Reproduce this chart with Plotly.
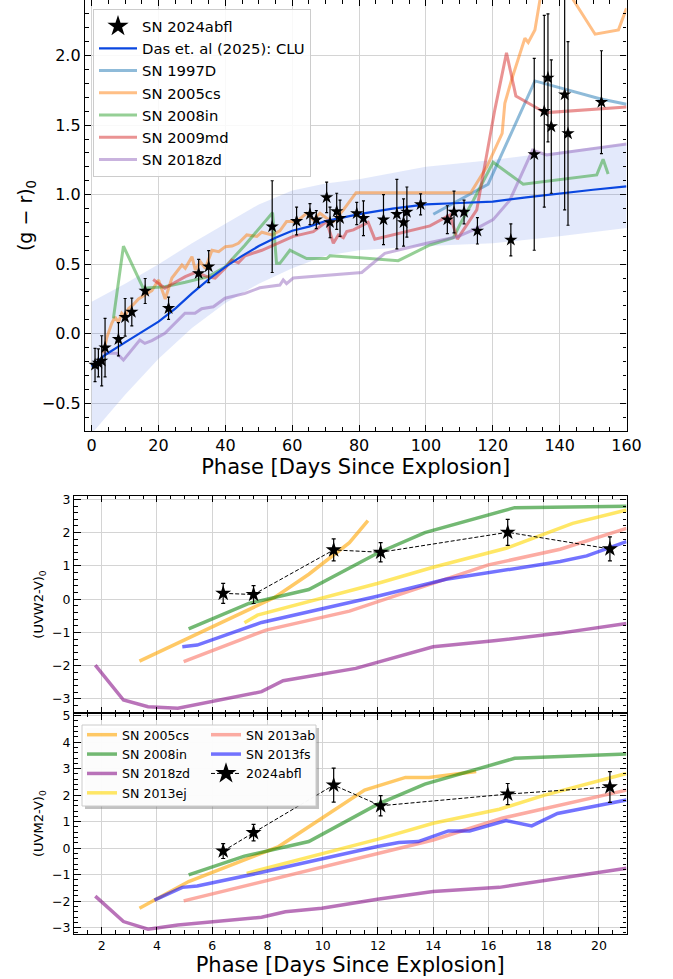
import plotly.graph_objects as go

# ---------------- (g - r)_0 panel ----------------
abfl_phase = [1.0, 2.0, 3.0, 4.0, 8.0, 10.0, 12.0, 16.0, 23.0, 32.0, 35.0,
              54.0, 61.3, 65.3, 67.2, 70.3, 71.3, 73.3, 74.3, 79.3,
              81.3, 87.3, 91.3, 93.3, 94.3, 98.4,
              106.4, 108.4, 111.4, 115.4, 125.4,
              132.4, 135.4, 136.5, 137.5, 141.5, 142.5, 152.5]
abfl_gr = [-0.225, -0.21, -0.195, -0.10, -0.04, 0.118, 0.156, 0.307, 0.183, 0.434, 0.482,
           0.77, 0.81, 0.86, 0.82, 0.98, 0.80, 0.88, 0.83, 0.865,
           0.83, 0.82, 0.86, 0.80, 0.875, 0.93,
           0.82, 0.875, 0.875, 0.74, 0.675,
           1.29, 1.60, 1.84, 1.49, 1.72, 1.44, 1.665]
abfl_gr_err = [0.12, 0.10, 0.18, 0.21, 0.12, 0.135, 0.10, 0.09, 0.08, 0.10, 0.115,
               0.33, 0.10, 0.075, 0.065, 0.11, 0.11, 0.13, 0.13, 0.08,
               0.125, 0.18, 0.25, 0.17, 0.18, 0.075,
               0.10, 0.15, 0.085, 0.095, 0.115,
               0.69, 0.69, 0.46, 0.48, 0.83, 0.66, 0.37]

clu_phase = [0, 4, 10, 15, 20, 25, 30, 35, 40, 45, 50, 55, 60, 65, 70, 75, 80,
             90, 100, 110, 120, 130, 140, 150, 160]
clu_gr = [-0.237, -0.153, -0.063, 0.012, 0.086, 0.18, 0.29, 0.39, 0.48, 0.56, 0.63,
          0.69, 0.74, 0.77, 0.81, 0.835, 0.86, 0.90, 0.93, 0.94, 0.95, 0.98, 1.01, 1.035, 1.06]
band_phase = [0, 10, 20, 30, 40, 50, 60, 70, 80, 100, 120, 140, 160]
band_hi = [0.23, 0.36, 0.50, 0.65, 0.79, 0.93, 1.03, 1.08, 1.11, 1.20, 1.25, 1.31, 1.37]
band_lo = [-0.72, -0.44, -0.18, 0.04, 0.22, 0.36, 0.47, 0.56, 0.60, 0.63, 0.65, 0.70, 0.76]

sn97d_phase = [102.2, 118.6, 132.6, 152.0, 160.0]
sn97d_gr = [0.859, 1.075, 1.818, 1.69, 1.65]

sn05cs_phase = [3.5, 4.5, 6.0, 7.0, 8.0, 9.0, 10.0, 11.0, 12.5, 14.0, 16.0, 18.0, 20.0, 22.0,
                24.0, 27.0, 28.0, 30.0, 31.0, 32.5, 34.0, 36.0, 38.0, 40.0, 42.0, 43.9,
                46.4, 49.4, 50.9, 53.9, 56.3, 58.3, 61.3, 64.3, 66.3, 68.3, 70.3, 72.3,
                75.3, 79.1, 113.4, 118.2, 122.8, 123.6, 125.6, 129.6, 130.6, 132.6, 134.1,
                139.0, 144.1, 150.6, 157.6, 160.0]
sn05cs_gr = [-0.14, -0.03, 0.075, 0.12, 0.08, 0.147, 0.122, 0.18, 0.21, 0.25, 0.28, 0.31,
             0.386, 0.25, 0.40, 0.494, 0.47, 0.554, 0.458, 0.518, 0.47, 0.60, 0.59, 0.626,
             0.63, 0.65, 0.71, 0.70, 0.73, 0.71, 0.74, 0.806, 0.806, 0.866, 0.818, 0.866,
             0.83, 0.806, 0.89, 1.014, 1.014, 1.20, 1.44, 1.657, 1.825, 2.125, 2.094,
             2.185, 2.40, 2.90, 2.40, 2.154, 2.185, 2.34]

sn08in_phase = [6.5, 9.5, 15.4, 21.9, 28.0, 34.9, 39.9, 45.9, 54.1, 55.3, 56.3, 59.3,
                64.3, 70.3, 71.3, 80.3, 91.7, 101.2, 108.2, 110.5, 114.2, 120.1, 129.1,
                151.1, 153.0, 154.5]
sn08in_gr = [0.11, 0.63, 0.327, 0.338, 0.37, 0.41, 0.48, 0.638, 0.87, 0.506, 0.506, 0.60,
             0.54, 0.54, 0.56, 0.547, 0.525, 0.638, 0.69, 0.80, 0.96, 1.233, 1.075,
             1.142, 1.255, 1.149]

sn09md_phase = [18.4, 21.9, 25.0, 28.0, 30.9, 32.4, 34.5, 36.9, 39.9, 41.9, 43.9, 45.9,
                50.9, 60.3, 66.3, 70.3, 72.3, 73.8, 75.3, 76.3, 78.3, 80.3, 82.7, 84.7,
                101.2, 107.2, 109.4, 115.2, 120.6, 124.1, 126.9, 134.9, 136.1, 160.0]
sn09md_gr = [0.39, 0.327, 0.37, 0.41, 0.44, 0.43, 0.41, 0.40, 0.47, 0.53, 0.51, 0.56,
             0.60, 0.70, 0.734, 0.806, 0.65, 0.71, 0.69, 0.734, 0.746, 0.77, 0.80, 0.68,
             0.775, 0.854, 0.68, 0.89, 1.61, 2.02, 1.71, 1.60, 1.59, 1.63]

sn18zd_phase = [3.5, 7.5, 9.5, 11.5, 14.4, 15.9, 18.0, 21.9, 24.9, 27.9, 30.9, 32.9, 36.4,
                39.9, 45.9, 50.3, 56.3, 57.3, 58.3, 60.3, 80.8, 87.7, 100.2, 109.7, 115.2,
                120.1, 125.1, 128.6, 131.9, 136.1, 160.0]
sn18zd_gr = [-0.14, -0.14, -0.19, -0.13, -0.045, -0.07, -0.05, 0.003, 0.075, 0.147, 0.147,
             0.18, 0.194, 0.255, 0.29, 0.33, 0.35, 0.386, 0.36, 0.40, 0.44, 0.578, 0.65,
             0.70, 0.758, 0.82, 0.96, 1.15, 1.32, 1.286, 1.365]

# ---------------- UV colour panels ----------------
uv_phase = [6.4, 7.5, 10.4, 12.1, 16.7, 20.4]
uvw2_v = [0.175, 0.14, 1.48, 1.41, 2.01, 1.51]
uvw2_err = [0.30, 0.27, 0.33, 0.29, 0.39, 0.36]
uvm2_v = [-0.11, 0.585, 2.38, 1.60, 2.04, 2.31]
uvm2_err = [0.28, 0.31, 0.64, 0.38, 0.40, 0.58]

w2_05cs_t = [3.37, 5.0, 6.6, 8.26, 9.5, 10.97, 11.64]
w2_05cs = [-1.86, -1.22, -0.60, 0.05, 0.75, 1.70, 2.36]
w2_08in_t = [5.15, 7.33, 9.5, 11.98, 13.7, 16.95, 21.0]
w2_08in = [-0.89, -0.13, 0.29, 1.38, 2.0, 2.75, 2.79]
w2_18zd_t = [1.77, 2.79, 3.68, 4.76, 7.79, 8.57, 11.2, 14.0, 16.2, 18.6, 21.0]
w2_18zd = [-1.98, -3.03, -3.23, -3.28, -2.78, -2.45, -2.08, -1.43, -1.25, -1.02, -0.73]
w2_13ej_t = [7.17, 7.64, 11.98, 14.0, 16.64, 19.05, 21.0]
w2_13ej = [-0.71, -0.48, 0.47, 0.96, 1.53, 2.28, 2.68]
w2_13ab_t = [4.97, 7.95, 10.97, 11.98, 14.3, 16.0, 18.6, 21.0]
w2_13ab = [-1.88, -0.93, -0.36, -0.08, 0.55, 1.03, 1.50, 2.13]
w2_13fs_t = [4.92, 5.46, 7.79, 11.98, 14.47, 16.64, 18.6, 19.56, 21.0]
w2_13fs = [-1.43, -1.38, -0.70, 0.09, 0.60, 0.88, 1.13, 1.30, 1.73]

m2_05cs_t = [3.37, 5.15, 8.41, 10.12, 11.52, 13.0, 13.85, 15.56]
m2_05cs = [-2.27, -1.26, 0.06, 1.25, 2.19, 2.67, 2.67, 2.89]
m2_08in_t = [5.15, 7.17, 9.5, 11.98, 13.7, 16.95, 21.0]
m2_08in = [-1.01, -0.30, 0.25, 1.65, 2.42, 3.39, 3.55]
m2_18zd_t = [1.77, 2.79, 3.68, 4.76, 7.79, 8.65, 9.97, 11.98, 14.0, 16.4, 21.0]
m2_18zd = [-1.81, -2.77, -3.06, -2.90, -2.61, -2.40, -2.27, -1.93, -1.64, -1.48, -0.76]
m2_13ej_t = [7.25, 11.98, 14.0, 15.56, 16.4, 18.04, 21.0]
m2_13ej = [-0.95, 0.33, 0.94, 1.28, 1.47, 2.0, 2.82]
m2_13ab_t = [4.97, 11.98, 14.0, 16.49, 21.0]
m2_13ab = [-1.99, -0.23, 0.31, 1.13, 2.19]
m2_13fs_t = [3.91, 4.92, 5.46, 7.64, 11.98, 12.76, 13.46, 14.55, 15.32, 16.64, 17.57, 18.5, 21.0]
m2_13fs = [-1.96, -1.48, -1.43, -0.95, 0.06, 0.21, 0.25, 0.65, 0.65, 1.04, 0.84, 1.31, 1.82]

# ---------------- figure ----------------
W, H = 673, 979
FONT = "DejaVu Sans"


def fx(px):
    return px / W


def fy(py):
    return 1 - py / H


fig = go.Figure()

# CLU spread
fig.add_trace(go.Scatter(x=band_phase, y=band_hi, mode="lines", line=dict(width=0),
                         showlegend=False, hoverinfo="skip", xaxis="x", yaxis="y"))
fig.add_trace(go.Scatter(x=band_phase, y=band_lo, mode="lines", line=dict(width=0),
                         fill="tonexty", fillcolor="rgba(70,110,225,0.15)",
                         showlegend=False, hoverinfo="skip", xaxis="x", yaxis="y"))

top_cmp = [
    ("SN 1997D", sn97d_phase, sn97d_gr, "rgba(31,119,180,0.5)", 3),
    ("SN 2005cs", sn05cs_phase, sn05cs_gr, "rgba(255,127,14,0.5)", 4),
    ("SN 2008in", sn08in_phase, sn08in_gr, "rgba(44,160,44,0.5)", 5),
    ("SN 2009md", sn09md_phase, sn09md_gr, "rgba(214,39,40,0.5)", 6),
    ("SN 2018zd", sn18zd_phase, sn18zd_gr, "rgba(148,103,189,0.5)", 7),
]
for name, t, c, col, rank in top_cmp:
    fig.add_trace(go.Scatter(x=t, y=c, mode="lines", name=name,
                             line=dict(color=col, width=3), legend="legend",
                             legendrank=rank, xaxis="x", yaxis="y"))

fig.add_trace(go.Scatter(x=clu_phase, y=clu_gr, mode="lines", name="Das et. al (2025): CLU",
                         line=dict(color="#0a47e0", width=2.2), legend="legend",
                         legendrank=2, xaxis="x", yaxis="y"))

fig.add_trace(go.Scatter(x=abfl_phase, y=abfl_gr, mode="markers", name="SN 2024abfl",
                         marker=dict(symbol="star", size=10, color="black"),
                         error_y=dict(type="data", array=abfl_gr_err, color="black",
                                      thickness=1.2, width=1.5),
                         showlegend=False, xaxis="x", yaxis="y"))
fig.add_trace(go.Scatter(x=[None], y=[None], mode="markers", name="SN 2024abfl",
                         marker=dict(symbol="star", size=16, color="black"),
                         legend="legend", legendrank=1, xaxis="x", yaxis="y"))

# UV comparison objects
uv_cmp = [
    ("SN 2005cs", "rgba(255,165,0,0.6)", w2_05cs_t, w2_05cs, m2_05cs_t, m2_05cs, "legend2", 1),
    ("SN 2008in", "rgba(0,128,0,0.55)", w2_08in_t, w2_08in, m2_08in_t, m2_08in, "legend2", 2),
    ("SN 2018zd", "rgba(128,0,128,0.55)", w2_18zd_t, w2_18zd, m2_18zd_t, m2_18zd, "legend2", 3),
    ("SN 2013ej", "rgba(255,215,0,0.6)", w2_13ej_t, w2_13ej, m2_13ej_t, m2_13ej, "legend2", 4),
    ("SN 2013ab", "rgba(250,128,114,0.65)", w2_13ab_t, w2_13ab, m2_13ab_t, m2_13ab, "legend3", 1),
    ("SN 2013fs", "rgba(0,0,255,0.55)", w2_13fs_t, w2_13fs, m2_13fs_t, m2_13fs, "legend3", 2),
]
for name, col, tw, cw, tm, cm, leg, rank in uv_cmp:
    fig.add_trace(go.Scatter(x=tw, y=cw, mode="lines", line=dict(color=col, width=3.5),
                             showlegend=False, xaxis="x2", yaxis="y2"))
    fig.add_trace(go.Scatter(x=tm, y=cm, mode="lines", name=name,
                             line=dict(color=col, width=3.5), legend=leg, legendrank=rank,
                             xaxis="x3", yaxis="y3"))

for yv, ev, ya, xa in [(uvw2_v, uvw2_err, "y2", "x2"), (uvm2_v, uvm2_err, "y3", "x3")]:
    fig.add_trace(go.Scatter(x=uv_phase, y=yv, mode="lines+markers",
                             line=dict(color="black", width=1, dash="4px,2px"),
                             marker=dict(symbol="star", size=12, color="black"),
                             error_y=dict(type="data", array=ev, color="black",
                                          thickness=1.2, width=2),
                             showlegend=False, xaxis=xa, yaxis=ya))
fig.add_trace(go.Scatter(x=[None], y=[None], mode="lines+markers", name="2024abfl",
                         line=dict(color="black", width=1, dash="4px,2px"),
                         marker=dict(symbol="star", size=16, color="black"),
                         legend="legend3", legendrank=3, xaxis="x3", yaxis="y3"))

axis_common = dict(showline=True, linecolor="black", linewidth=1.3, mirror="ticks",
                   ticks="inside", tickcolor="black", tickwidth=1.2, zeroline=False,
                   showgrid=True, gridcolor="#d4d4d4", gridwidth=1, automargin=False)

fig.update_layout(
    width=W, height=H, margin=dict(l=0, r=0, t=0, b=0, autoexpand=False),
    plot_bgcolor="white", paper_bgcolor="white",
    font=dict(family=FONT, color="black"),
    xaxis=dict(axis_common, domain=[fx(85), fx(626.5)], anchor="y", range=[-2, 160],
               tick0=0, dtick=20, ticklen=6, tickfont=dict(size=16),
               minor=dict(dtick=5, ticks="inside", ticklen=3.5, tickcolor="black",
                          tickwidth=1, showgrid=False),
               title=dict(text="Phase [Days Since Explosion]", font=dict(size=21), standoff=2)),
    yaxis=dict(axis_common, domain=[fy(431), 1.0], anchor="x", range=[-0.7, 2.4],
               tick0=0, dtick=0.5, tickformat=".1f", ticklen=6, tickfont=dict(size=16),
               minor=dict(dtick=0.1, ticks="inside", ticklen=3.5, tickcolor="black",
                          tickwidth=1, showgrid=False),
               title=dict(text="(g − r)<sub>0</sub>", font=dict(size=19), standoff=4)),
    xaxis2=dict(axis_common, domain=[fx(74), fx(626.5)], anchor="y2", range=[1, 21],
                tick0=0, dtick=2, ticklen=6.5, showticklabels=False,
                minor=dict(dtick=0.5, ticks="inside", ticklen=3.5, tickcolor="black",
                           tickwidth=1, showgrid=False)),
    yaxis2=dict(axis_common, domain=[fy(713.3), fy(495.7)], anchor="x2", range=[-3.43, 3.11],
                tick0=0, dtick=1, ticklen=6.5, tickfont=dict(size=12.5),
                minor=dict(dtick=0.2, ticks="inside", ticklen=3.5, tickcolor="black",
                           tickwidth=1, showgrid=False),
                title=dict(text="(UVW2-V)<sub>0</sub>", font=dict(size=13), standoff=5)),
    xaxis3=dict(axis_common, domain=[fx(74), fx(626.5)], anchor="y3", range=[1, 21],
                tick0=0, dtick=2, ticklen=6.5, tickfont=dict(size=12.5),
                minor=dict(dtick=0.5, ticks="inside", ticklen=3.5, tickcolor="black",
                           tickwidth=1, showgrid=False),
                title=dict(text="Phase [Days Since Explosion]", font=dict(size=21), standoff=3)),
    yaxis3=dict(axis_common, domain=[fy(934), fy(713.3)], anchor="x3", range=[-3.24, 5.09],
                tick0=0, dtick=1, ticklen=6.5, tickfont=dict(size=12.5),
                minor=dict(dtick=0.2, ticks="inside", ticklen=3.5, tickcolor="black",
                           tickwidth=1, showgrid=False),
                title=dict(text="(UVM2-V)<sub>0</sub>", font=dict(size=13), standoff=5)),
    legend=dict(x=fx(93), y=fy(9), xanchor="left", yanchor="top",
                bgcolor="rgba(255,255,255,0.85)", bordercolor="#cccccc", borderwidth=1,
                font=dict(size=14.8), tracegroupgap=0, traceorder="normal", itemwidth=38),
    legend2=dict(x=fx(82), y=fy(720), xanchor="left", yanchor="top",
                 bgcolor="rgba(0,0,0,0)", borderwidth=0, font=dict(size=12.6),
                 tracegroupgap=0, traceorder="normal"),
    legend3=dict(x=fx(206), y=fy(720), xanchor="left", yanchor="top",
                 bgcolor="rgba(0,0,0,0)", borderwidth=0, font=dict(size=12.6),
                 tracegroupgap=0, traceorder="normal"),
    shapes=[
        dict(type="rect", xref="paper", yref="paper", x0=fx(85), x1=fx(319),
             y0=fy(809), y1=fy(728), fillcolor="rgba(120,120,120,0.45)",
             line=dict(width=0), layer="above"),
        dict(type="rect", xref="paper", yref="paper", x0=fx(82), x1=fx(316),
             y0=fy(806), y1=fy(725), fillcolor="rgba(255,255,255,0.95)",
             line=dict(color="#cccccc", width=1), layer="above"),
    ],
)

fig.write_html("out.html")
